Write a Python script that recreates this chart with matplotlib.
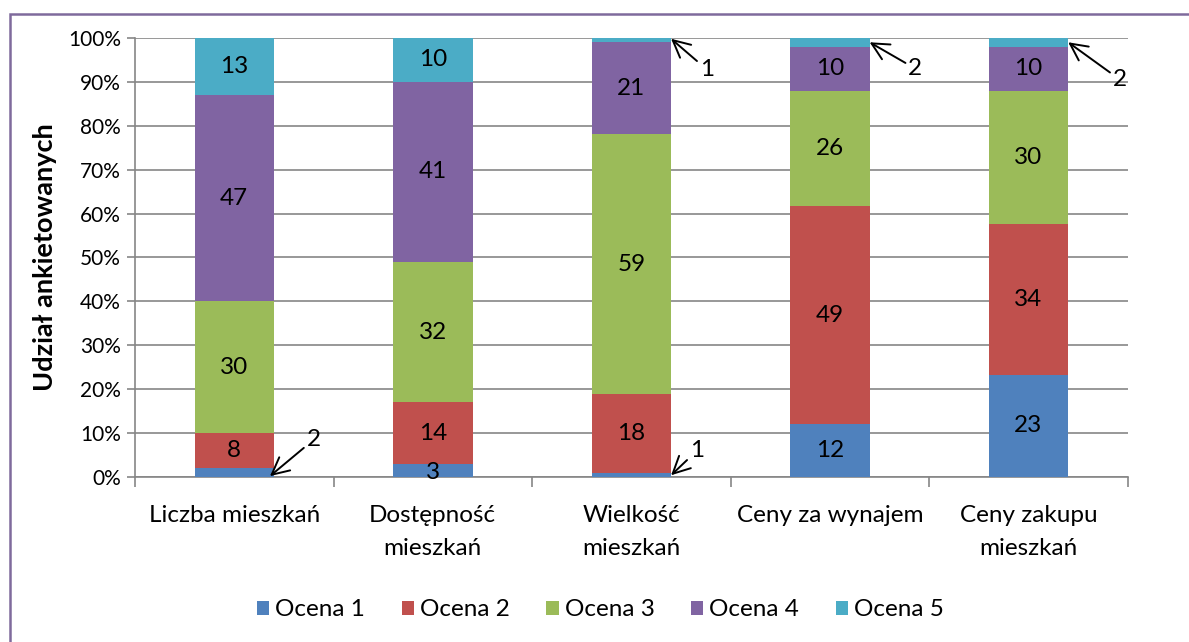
import matplotlib
matplotlib.use("Agg")
import matplotlib.pyplot as plt
import numpy as np

# Dane z wykresu
categories = ["Liczba mieszkań", "Dostępność\nmieszkań", "Wielkość\nmieszkań",
              "Ceny za wynajem", "Ceny zakupu\nmieszkań"]
series_names = ["Ocena 1", "Ocena 2", "Ocena 3", "Ocena 4", "Ocena 5"]
ocena1 = [2, 3, 1, 12, 23]
ocena2 = [8, 14, 18, 49, 34]
ocena3 = [30, 32, 59, 26, 30]
ocena4 = [47, 41, 21, 10, 10]
ocena5 = [13, 10, 1, 2, 2]
colors = ["#4F81BD", "#C0504D", "#9BBB59", "#8064A2", "#4BACC6"]

plt.rcParams['font.family'] = ['Lato', 'DejaVu Sans']

data = np.array([ocena1, ocena2, ocena3, ocena4, ocena5], dtype=float)
shares = data / data.sum(axis=0) * 100

fig = plt.figure(figsize=(11.89, 6.42), dpi=100)
ax = fig.add_axes([0.1135, 0.257, 0.835, 0.684])

# ramka wykresu (lewa i górna krawędź widoczna)
fig.patches.append(plt.Rectangle((10 / 1189, -0.05), 1.2, 1 - 14 / 642 + 0.05,
                                 transform=fig.transFigure, fill=False,
                                 edgecolor="#7F6A9C", linewidth=1.8))

FS = 17.5
x = np.arange(len(categories))
bottom = np.zeros(len(categories))
for i in range(5):
    ax.bar(x, shares[i], 0.4, bottom=bottom, color=colors[i],
           label=series_names[i], zorder=3)
    for j in range(len(categories)):
        v = data[i, j]
        mid = bottom[j] + shares[i, j] / 2
        if shares[i, j] >= 5:
            ax.text(x[j], mid, f"{int(v)}", ha="center", va="center",
                    fontsize=FS, zorder=4)
    bottom += shares[i]

# małe wartości z etykietami i strzałkami
ax.text(x[1], 1.0, "3", ha="center", va="center", fontsize=FS, zorder=4)
arrow = dict(arrowstyle="->,head_length=0.7,head_width=0.35", color="black",
             lw=1.4, shrinkA=0, shrinkB=0)
ax.annotate("2", xy=(x[0] + 0.18, 0.2), xytext=(x[0] + 0.40, 8.5),
            fontsize=FS, ha="center", va="center", arrowprops=arrow, zorder=5)
ax.annotate("1", xy=(x[2] + 0.2, 0.4), xytext=(x[2] + 0.33, 6.0),
            fontsize=FS, ha="center", va="center", arrowprops=arrow, zorder=5)
ax.annotate("1", xy=(x[2] + 0.2, 99.8), xytext=(x[2] + 0.38, 92.8),
            fontsize=FS, ha="center", va="center", arrowprops=arrow, zorder=5)
ax.annotate("2", xy=(x[3] + 0.2, 99.0), xytext=(x[3] + 0.43, 93.0),
            fontsize=FS, ha="center", va="center", arrowprops=arrow, zorder=5)
ax.annotate("2", xy=(x[4] + 0.2, 99.0), xytext=(x[4] + 0.46, 90.5),
            fontsize=FS, ha="center", va="center", arrowprops=arrow, zorder=5)

ax.set_xlim(-0.5, len(categories) - 0.5)
ax.set_ylim(0, 100)
ax.set_yticks(np.arange(0, 101, 10))
ax.set_yticklabels([f"{t}%" for t in range(0, 101, 10)], fontsize=15)
ax.set_xticks(x)
ax.set_xticklabels(categories, fontsize=FS, linespacing=1.7)
ax.set_xticks(np.arange(-0.5, len(categories), 1), minor=True)
ax.tick_params(axis="x", which="major", length=0, pad=20)
ax.tick_params(axis="x", which="minor", length=7, color="#868686", width=1.2)
ax.tick_params(axis="y", length=6, color="#868686", width=1.2, pad=4)
ax.yaxis.grid(True, color="#868686", linewidth=1.2, zorder=0)
for s in ["top", "right"]:
    ax.spines[s].set_visible(False)
for s in ["left", "bottom"]:
    ax.spines[s].set_color("#868686")
    ax.spines[s].set_linewidth(1.2)

ax.set_ylabel("Udział ankietowanych", fontsize=19.5, fontweight="bold", labelpad=8)

fig.legend(loc="center", bbox_to_anchor=(0.505, 0.05), ncol=5, frameon=False,
           fontsize=FS, handlelength=0.5, handleheight=0.5, handletextpad=0.25,
           columnspacing=1.5)

fig.savefig("out.png", dpi=100)
